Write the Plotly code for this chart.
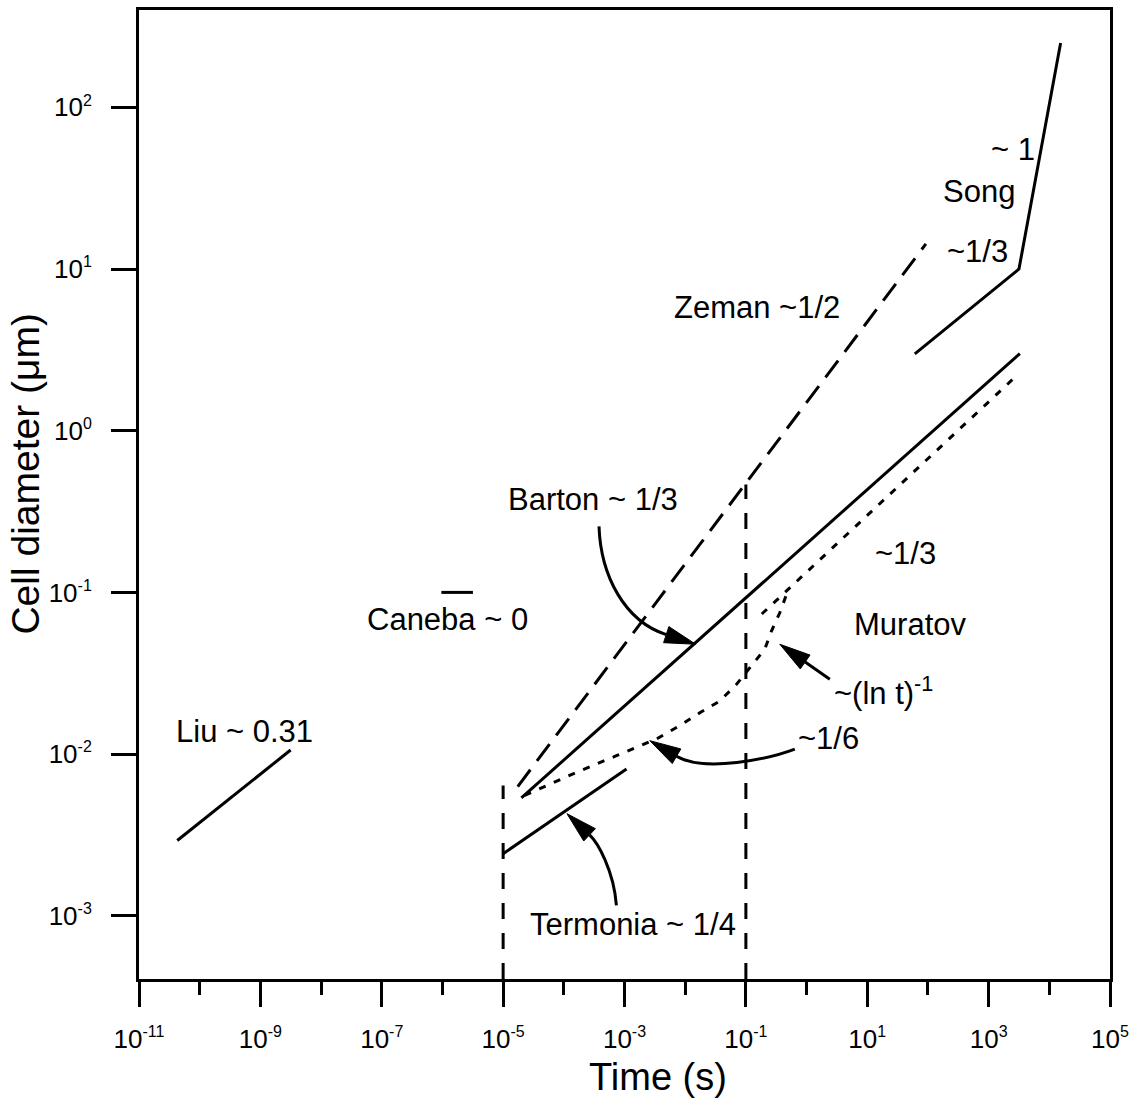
import math
import plotly.graph_objects as go

# ---------------- data (time in s, cell diameter in um) ----------------
liu_t = [4.27e-11, 3.15e-9]
liu_d = [2.92e-3, 1.06e-2]

caneba_t = [9.6e-7, 3.18e-6]
caneba_d = [0.1, 0.1]

barton_t = [2.0e-5, 3.27e3]
barton_d = [5.36e-3, 3.0]

zeman_t = [1.74e-5, 92.5]
zeman_d = [6.3e-3, 14.3]

termonia_t = [1.0e-5, 1.08e-3]
termonia_d = [2.42e-3, 8.1e-3]

song_t = [60.8, 3162.0, 1.535e4]
song_d = [2.99, 10.0, 250.0]

muratov_early_t = [2.26e-5, 1.61e-4, 7.36e-4, 3.36e-3, 8.13e-3, 1.74e-2, 3.72e-2,
                   7.0e-2, 0.116, 0.205, 0.264, 0.362, 0.467]
muratov_early_d = [5.55e-3, 7.71e-3, 9.77e-3, 1.24e-2, 1.50e-2, 1.80e-2, 2.13e-2,
                   2.70e-2, 3.42e-2, 4.45e-2, 5.77e-2, 7.48e-2, 9.70e-2]
muratov_late_t = [0.183, 2710.0]
muratov_late_d = [7.35e-2, 2.14]

vline_t = [1e-5, 1e-1]
vline_top = [6.4e-3, 0.465]

SUP = '<sup><span style="font-size:16px">{}</span></sup>'
x_tickvals = [1e-11, 1e-9, 1e-7, 1e-5, 1e-3, 1e-1, 1e1, 1e3, 1e5]
x_exponents = ["-11", "-9", "-7", "-5", "-3", "-1", "1", "3", "5"]
x_minorvals = [1e-10, 1e-8, 1e-6, 1e-4, 1e-2, 1e0, 1e2, 1e4]
y_tickvals = [1e-3, 1e-2, 1e-1, 1e0, 1e1, 1e2]
y_exponents = ["-3", "-2", "-1", "0", "1", "2"]
x_ticktext = ["10" + SUP.format(e) for e in x_exponents]
y_ticktext = ["10" + SUP.format(e) for e in y_exponents]

# labels: (text, t, D)
labels = [
    ("Liu ~ 0.31", 5.42e-10, 1.374e-2),
    ("Caneba ~ 0", 1.19e-6, 6.84e-2),
    ("Barton ~ 1/3", 2.99e-4, 0.376),
    ("Zeman ~1/2", 0.151, 5.81),
    ("~ 1", 2512.0, 54.8),
    ("Song", 692.0, 30.2),
    ("~1/3", 665.0, 12.9),
    ("~1/3", 43.3, 0.1746),
    ("Muratov", 50.4, 0.0637),
    ("~(ln t)<sup>-1</sup>", 18.75, 0.0246),
    ("~1/6", 2.33, 0.01245),
    ("Termonia ~ 1/4", 1.37e-3, 8.87e-4),
]

# arrows: (start, control1, control2, tip) as (t, D)
arrows = [
    [(3.80e-4, 0.256), (4.06e-4, 0.126), (1.01e-3, 0.0664), (1.49e-2, 0.0478)],
    [(7.36e-4, 1.16e-3), (6.64e-4, 1.91e-3), (3.62e-4, 2.84e-3), (1.127e-4, 4.28e-3)],
    [(0.64, 0.01074), (0.248, 0.00938), (0.0210, 0.00767), (2.61e-3, 0.01211)],
    [(2.415, 0.02904), (2.415, 0.02904), (2.415, 0.02904), (0.362, 0.0478)],
]

# ---------------- figure ----------------
XR = [-11.0, 5.0]
YR = [-3.391, 2.602]
ML, MR, MT, MB = 139, 28, 7, 125
W, H = 1138, 1104
PW, PH = W - ML - MR, H - MT - MB
FONT = "Liberation Sans, Arial"

fig = go.Figure()


def line(t, d, dash="solid"):
    fig.add_trace(go.Scatter(x=t, y=d, mode="lines",
                             line=dict(color="black", width=3, dash=dash),
                             hoverinfo="skip", showlegend=False))


line(liu_t, liu_d)
line(caneba_t, caneba_d)
line(barton_t, barton_d)
line(termonia_t, termonia_d)
line(song_t, song_d)
line(zeman_t, zeman_d, dash="21px,11px")
line(muratov_early_t, muratov_early_d, dash="7px,9px")
line(muratov_late_t, muratov_late_d, dash="7px,9px")
bottom = 10 ** YR[0]
for vt, vtop in zip(vline_t, vline_top):
    line([vt, vt], [bottom, vtop], dash="16px,14px")


def to_px(t, d):
    px = (math.log10(t) - XR[0]) / (XR[1] - XR[0]) * PW
    py = (math.log10(d) - YR[0]) / (YR[1] - YR[0]) * PH
    return px, py


def to_paper(p):
    return p[0] / PW, p[1] / PH


HL, HW = 31.0, 8.5
for a in arrows:
    s, c1, c2, tip = [to_px(*p) for p in a]
    ref = c2 if (abs(c2[0] - tip[0]) + abs(c2[1] - tip[1])) > 1e-6 else s
    dx, dy = tip[0] - ref[0], tip[1] - ref[1]
    n = math.hypot(dx, dy)
    ux, uy = dx / n, dy / n
    b = (tip[0] - HL * ux, tip[1] - HL * uy)
    v1 = (b[0] - HW * uy, b[1] + HW * ux)
    v2 = (b[0] + HW * uy, b[1] - HW * ux)
    P = [to_paper(p) for p in (s, c1, c2, b)]
    path = "M {:.5f},{:.5f} C {:.5f},{:.5f} {:.5f},{:.5f} {:.5f},{:.5f}".format(
        *P[0], *P[1], *P[2], *P[3])
    fig.add_shape(type="path", xref="paper", yref="paper", path=path,
                  line=dict(color="black", width=3))
    T = [to_paper(p) for p in (tip, v1, v2)]
    hp = "M {:.5f},{:.5f} L {:.5f},{:.5f} L {:.5f},{:.5f} Z".format(*T[0], *T[1], *T[2])
    fig.add_shape(type="path", xref="paper", yref="paper", path=hp,
                  line=dict(color="black", width=1), fillcolor="black")

for txt, t, d in labels:
    fig.add_annotation(x=math.log10(t), y=math.log10(d), xref="x", yref="y",
                       text=txt, showarrow=False,
                       font=dict(family=FONT, size=31, color="black"),
                       xanchor="center", yanchor="middle")

# axis titles
fig.add_annotation(x=(658 - ML) / PW, y=(MT + PH - 1077) / PH, xref="paper", yref="paper",
                   text="Time (s)", showarrow=False,
                   font=dict(family=FONT, size=38, color="black"),
                   xanchor="center", yanchor="middle")
fig.add_annotation(x=(26 - ML) / PW, y=(MT + PH - 472) / PH, xref="paper", yref="paper",
                   text="Cell diameter (μm)", showarrow=False, textangle=-90,
                   font=dict(family=FONT, size=39, color="black"),
                   xanchor="center", yanchor="middle")

axis_font = dict(family=FONT, size=26, color="black")
fig.update_layout(
    width=W, height=H,
    margin=dict(l=ML, r=MR, t=MT, b=MB),
    paper_bgcolor="white", plot_bgcolor="white",
    showlegend=False,
    font=dict(family=FONT, color="black"),
    xaxis=dict(
        type="log", range=XR, showgrid=False, zeroline=False,
        showline=True, linecolor="black", linewidth=3, mirror=True,
        ticks="outside", ticklen=25, tickwidth=3, tickcolor="black",
        tickmode="array", tickvals=x_tickvals, ticktext=x_ticktext,
        tickfont=axis_font, ticklabelstandoff=10,
        minor=dict(tickmode="array", tickvals=x_minorvals, ticks="outside",
                   ticklen=13, tickwidth=3, tickcolor="black", showgrid=False),
    ),
    yaxis=dict(
        type="log", range=YR, showgrid=False, zeroline=False,
        showline=True, linecolor="black", linewidth=3, mirror=True,
        ticks="outside", ticklen=25, tickwidth=3, tickcolor="black",
        tickmode="array", tickvals=y_tickvals, ticktext=y_ticktext,
        tickfont=axis_font, ticklabelstandoff=14,
    ),
)

fig.write_html("out.html")
